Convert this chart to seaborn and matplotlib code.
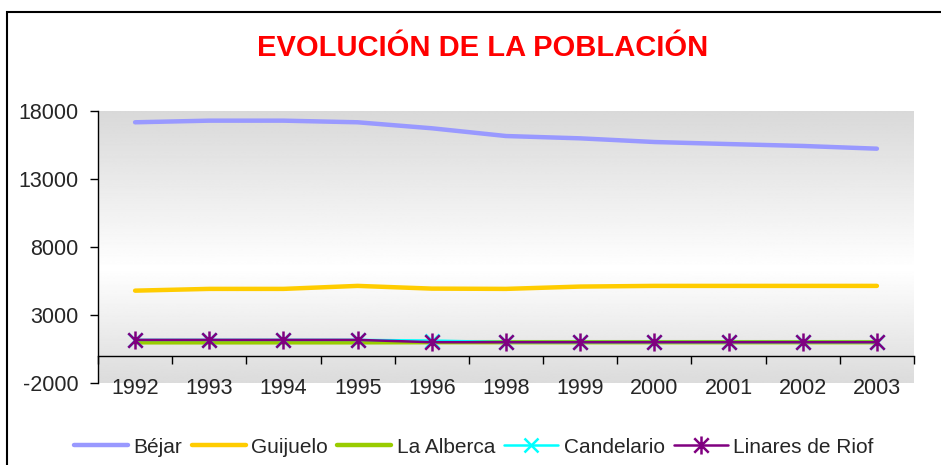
import numpy as np
import pandas as pd
import matplotlib
matplotlib.use("Agg")
import matplotlib.pyplot as plt
import seaborn as sns
from matplotlib.patches import Rectangle
from matplotlib.path import Path

# data
years = ["1992", "1993", "1994", "1995", "1996", "1998", "1999", "2000", "2001", "2002", "2003"]
bejar = [17170, 17290, 17290, 17170, 16730, 16160, 15990, 15720, 15570, 15430, 15230]
guijuelo = [4790, 4920, 4920, 5140, 4940, 4920, 5090, 5140, 5140, 5140, 5140]
la_alberca = [990, 990, 990, 990, 1000, 1000, 1000, 1000, 1000, 1000, 1000]
candelario = [1170, 1170, 1170, 1170, 1120, 1010, 1010, 1010, 1010, 1010, 1010]
linares = [1170, 1170, 1170, 1170, 1000, 1000, 1000, 1000, 1000, 1000, 1000]
yticks = [-2000, 3000, 8000, 13000, 18000]

df = pd.DataFrame({"pos": range(len(years)), "Béjar": bejar, "Guijuelo": guijuelo,
                   "La Alberca": la_alberca, "Candelario": candelario,
                   "Linares de Riof": linares})

sns.set_style("white")
plt.rcParams["font.family"] = ["Liberation Sans", "DejaVu Sans"]

fig = plt.figure(figsize=(9.41, 4.65), dpi=100)
ax = fig.add_axes([98 / 941, 1 - 383 / 465, 816 / 941, 272 / 465])

# outer chart frame
fig.patches.append(Rectangle((7 / 941, -0.2), 1.2, 1 - 12 / 465 + 0.2, transform=fig.transFigure,
                             fill=False, edgecolor="black", linewidth=1.5, clip_on=False))

# grey-white-grey background
t = np.linspace(0, 1, 300)
shade = np.interp(t, [0, 0.58, 1], [0.85, 1.0, 0.86])
grad = np.tile(shade[:, None], (1, 2))
ax.imshow(grad, cmap="gray", vmin=0, vmax=1, aspect="auto",
          extent=[-0.5, len(years) - 0.5, -2000, 18000], zorder=0, origin="upper")

# excel-like star: an X with a vertical bar
star = Path([(-1, -1), (1, 1), (-1, 1), (1, -1), (0, -1.25), (0, 1.25)],
            [Path.MOVETO, Path.LINETO, Path.MOVETO, Path.LINETO, Path.MOVETO, Path.LINETO])

styles = [
    ("Béjar", "#9999FF", 3.2, None, 0),
    ("Guijuelo", "#FFCC00", 3.2, None, 0),
    ("La Alberca", "#99CC00", 3.2, None, 0),
    ("Candelario", "#00FFFF", 1.8, "x", 10),
    ("Linares de Riof", "#800080", 1.8, star, 13),
]
for name, col, lw, mk, ms in styles:
    sns.lineplot(data=df, x="pos", y=name, ax=ax, color=col, linewidth=lw, label=name,
                 marker=mk, markersize=ms, markeredgewidth=1.8, markeredgecolor=col, zorder=3)

ax.set_xlim(-0.5, len(years) - 0.5)
ax.set_ylim(-2000, 18000)
ax.set_xlabel("")
ax.set_ylabel("")

ax.set_yticks(yticks)
ax.set_yticklabels([str(v) for v in yticks])
ax.tick_params(axis="y", direction="out", length=6, width=1, color="black",
               pad=8, labelsize=15.5, left=True)

ax.set_xticks(np.arange(-0.5, len(years), 1.0))
ax.set_xticklabels([])
ax.set_xticks(range(len(years)), minor=True)
ax.set_xticklabels(years, minor=True)
ax.tick_params(axis="x", which="major", direction="out", length=6, width=1, color="black", bottom=True)
ax.tick_params(axis="x", which="minor", length=0, pad=16, labelsize=15.5)

for s in ["top", "right"]:
    ax.spines[s].set_visible(False)
ax.spines["bottom"].set_position(("data", 0))
ax.spines["left"].set_color("black")
ax.spines["bottom"].set_color("black")
ax.spines["left"].set_linewidth(1)
ax.spines["bottom"].set_linewidth(1)

fig.text(483 / 941, 1 - 48 / 465, "EVOLUCIÓN DE LA POBLACIÓN", color="#FF0000",
         fontsize=21, fontweight="bold", ha="center", va="center")

ax.legend(loc="center", bbox_to_anchor=(474 / 941, 1 - 447 / 465), bbox_transform=fig.transFigure,
          ncol=5, frameon=False, fontsize=15, handlelength=2.6, handletextpad=0.25,
          columnspacing=0.45)

fig.savefig("out.png", dpi=100)
